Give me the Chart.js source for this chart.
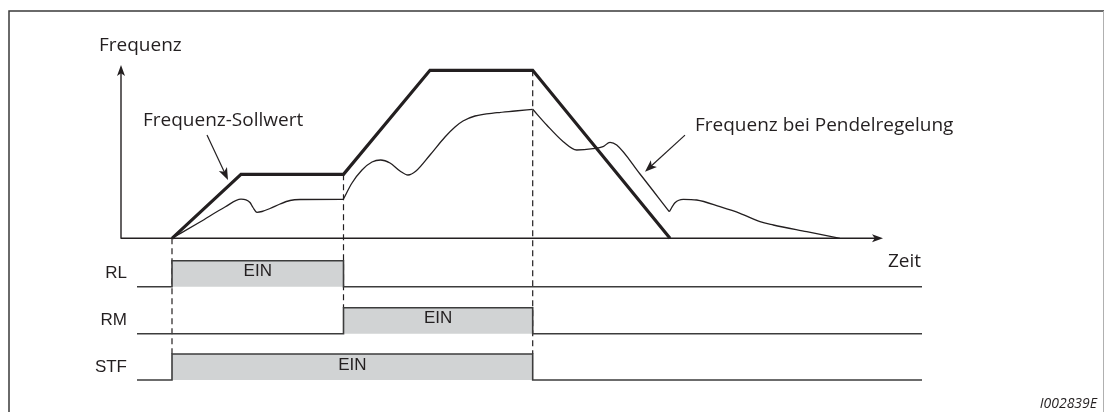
<!DOCTYPE html>
<html><head><meta charset="utf-8">
<script src="https://cdn.jsdelivr.net/npm/chart.js@4/dist/chart.umd.min.js"></script>
<style>html,body{margin:0;padding:0;background:#fff;}#wrap{width:1105px;height:412px;position:relative;}</style>
</head><body><div id="wrap"><canvas id="c" width="1105" height="412"></canvas></div>
<script>
// ---- data (time and frequency in arbitrary units) ----
const sollT = [0, 6.9, 17.15, 25.8, 36.07, 49.8];
const sollF = [0, 32, 32, 84, 84, 0];

// actual frequency with dancer control, split into 4 smooth sections
const pendelA_T = [0, 2.8, 5.3, 6.9, 7.4, 7.8, 8.1, 8.5, 9.0, 9.8, 10.8, 11.8, 12.8, 17.13];
const pendelA_F = [0, 8.15, 15.65, 19.55, 19.25, 17.9, 15.4, 13.0, 13.4, 14.9, 17.15, 18.9, 19.4, 19.5];
const pendelB_T = [17.13, 18.0, 19.0, 20.0, 20.87, 21.8, 22.8, 23.6, 24.4, 25.8, 27.3, 28.3, 29.1, 30.3, 32.5, 34.3, 36.07];
const pendelB_F = [19.5, 27.65, 34.15, 38.15, 39.15, 37.65, 33.65, 31.65, 33.65, 41.65, 50.65, 55.65, 58.65, 61.15, 62.8, 63.65, 64.5];
const pendelC_T = [36.07, 37.47, 39.13, 40.47, 42.1, 43.1, 43.8, 44.47, 46.8, 49.73];
const pendelC_F = [64.5, 56.65, 48.3, 44.15, 44.8, 45.8, 48.0, 46.65, 32.15, 13.3];
const pendelD_T = [49.73, 50.3, 51.13, 52.47, 54.8, 56.8, 58.8, 60.13, 63.47, 66.8];
const pendelD_F = [13.3, 17.8, 19.5, 19.15, 15.8, 12.5, 8.3, 6.65, 3.3, 0];

// control signals (step values, 1 = EIN)
const sigNames = ['RL', 'RM', 'STF'];
const sigT   = [-3.5, 0, 17.15, 36.07, 75];
const sigRL  = [0, 1, 0, 0, 0];
const sigRM  = [0, 0, 1, 0, 0];
const sigSTF = [0, 1, 1, 0, 0];
const sigOnText = 'EIN';

const texts = {
  yTitle: 'Frequenz',
  xTitle: 'Zeit',
  soll: 'Frequenz-Sollwert',
  pendel: 'Frequenz bei Pendelregelung',
  code: 'I002839E'
};

// ---- layout / style ----
const area = {top: 20, bottom: 400, left: 122, right: 183};
const sigLowPx = [286.7, 333.7, 380];
const sigUnitPx = 26;
const freqUnitPx = 2, freqZeroPx = 238.3;
const INK = '#231f20', SIGINK = '#3c3c3c', FILL = '#d1d3d4';

function pts(T, V) { return T.map((t, i) => ({x: t, y: V[i]})); }
const H = area.bottom - area.top;
function sigScale(lowPx) {
  const min = -(area.bottom - lowPx) / sigUnitPx;
  return {type: 'linear', display: false, min: min, max: min + H / sigUnitPx};
}
const fMin = -(area.bottom - freqZeroPx) / freqUnitPx;

const sigData = [sigRL, sigRM, sigSTF];
const sigIds = ['yRL', 'yRM', 'ySTF'];

const datasets = [];
sigData.forEach((vals, i) => {
  datasets.push({
    data: pts(sigT, vals), yAxisID: sigIds[i], stepped: 'before',
    borderColor: SIGINK, borderWidth: 1.6, backgroundColor: FILL,
    fill: 'origin', pointRadius: 0, clip: false, order: 2
  });
});
[[pendelA_T, pendelA_F], [pendelB_T, pendelB_F], [pendelC_T, pendelC_F], [pendelD_T, pendelD_F]].forEach(([T, F]) => {
  datasets.push({
    data: pts(T, F), yAxisID: 'y', borderColor: INK, borderWidth: 1.3,
    cubicInterpolationMode: 'monotone', pointRadius: 0, fill: false, clip: false, order: 1
  });
});
datasets.push({
  data: pts(sollT, sollF), yAxisID: 'y', borderColor: INK, borderWidth: 3.2,
  tension: 0, pointRadius: 0, fill: false, clip: false, order: 0,
  borderJoinStyle: 'miter'
});

function arrowHead(ctx, x1, y1, x2, y2, len, w) {
  const a = Math.atan2(y2 - y1, x2 - x1);
  ctx.beginPath();
  ctx.moveTo(x2, y2);
  ctx.lineTo(x2 - len * Math.cos(a) + w / 2 * Math.sin(a), y2 - len * Math.sin(a) - w / 2 * Math.cos(a));
  ctx.lineTo(x2 - len * Math.cos(a) * 0.75, y2 - len * Math.sin(a) * 0.75);
  ctx.lineTo(x2 - len * Math.cos(a) - w / 2 * Math.sin(a), y2 - len * Math.sin(a) + w / 2 * Math.cos(a));
  ctx.closePath();
  ctx.fill();
}
function arrow(ctx, x1, y1, x2, y2, lw, len, w) {
  const a = Math.atan2(y2 - y1, x2 - x1);
  ctx.lineWidth = lw;
  ctx.beginPath(); ctx.moveTo(x1, y1);
  ctx.lineTo(x2 - len * 0.7 * Math.cos(a), y2 - len * 0.7 * Math.sin(a)); ctx.stroke();
  arrowHead(ctx, x1, y1, x2, y2, len, w);
}

const decor = {
  id: 'decor',
  beforeDatasetsDraw(chart) {
    const ctx = chart.ctx, xs = chart.scales.x, y = chart.scales.y;
    const ySTF = chart.scales.ySTF, yRM = chart.scales.yRM;
    ctx.save();
    ctx.strokeStyle = INK; ctx.lineWidth = 1.2; ctx.setLineDash([6, 4]);
    const marks = [
      [sollT[0], y.getPixelForValue(0), ySTF.getPixelForValue(1)],
      [sollT[2], y.getPixelForValue(sollF[2]), yRM.getPixelForValue(1)],
      [sollT[4], y.getPixelForValue(sollF[4]), ySTF.getPixelForValue(1)]
    ];
    marks.forEach(([t, a, b]) => {
      const px = xs.getPixelForValue(t);
      ctx.beginPath(); ctx.moveTo(px, a); ctx.lineTo(px, b); ctx.stroke();
    });
    ctx.restore();
  },
  afterDraw(chart) {
    const ctx = chart.ctx, xs = chart.scales.x, y = chart.scales.y;
    ctx.save();
    // frame
    ctx.strokeStyle = '#3a3a3a'; ctx.lineWidth = 1.5;
    ctx.beginPath(); ctx.moveTo(9, 412); ctx.lineTo(9, 11); ctx.lineTo(1104, 11); ctx.stroke();
    ctx.strokeStyle = '#b0b0b0'; ctx.lineWidth = 1;
    ctx.beginPath(); ctx.moveTo(1103.5, 11); ctx.lineTo(1103.5, 412); ctx.stroke();

    // axes
    ctx.strokeStyle = INK; ctx.fillStyle = INK;
    const ox = xs.getPixelForValue(-5.1), oy = y.getPixelForValue(0);
    arrow(ctx, ox, oy + 0.5, ox, y.getPixelForValue(86.6), 1.4, 11, 8);
    arrow(ctx, ox, oy, xs.getPixelForValue(71.1), oy, 1.4, 11, 8);

    // annotation arrows
    arrow(ctx, xs.getPixelForValue(3.5), y.getPixelForValue(51.6), xs.getPixelForValue(5.6), y.getPixelForValue(29.2), 1.2, 12, 9);
    arrow(ctx, xs.getPixelForValue(51.3), y.getPixelForValue(51.6), xs.getPixelForValue(47.3), y.getPixelForValue(33.3), 1.2, 12, 9);

    // freq texts
    ctx.fillStyle = INK;
    ctx.textBaseline = 'alphabetic'; ctx.textAlign = 'left';
    ctx.font = '19px "Open Sans"';
    ctx.fillText(texts.yTitle, ox - 22, 50.7);
    ctx.fillText(texts.soll, 143, 126);
    ctx.fillText(texts.pendel, 695, 130.7);
    ctx.fillText(texts.xTitle, 888, 266.7);
    ctx.font = 'italic 14px "Open Sans"';
    ctx.textAlign = 'right';
    ctx.fillText(texts.code, 1097, 408);

    // signal labels
    ctx.font = '17px "Liberation Sans"';
    ctx.textBaseline = 'middle';
    sigIds.forEach((id, i) => {
      const sc = chart.scales[id];
      ctx.textAlign = 'right';
      ctx.fillStyle = INK;
      ctx.fillText(sigNames[i], xs.getPixelForValue(sigT[0]) - 10, sc.getPixelForValue(0) - 13);
      // EIN label centred over each continuous high run
      const v = sigData[i];
      ctx.textAlign = 'center';
      let k = 0;
      while (k < v.length - 1) {
        if (v[k] === 1) {
          let e = k;
          while (e < v.length - 1 && v[e] === 1) e++;
          const cx = (xs.getPixelForValue(sigT[k]) + xs.getPixelForValue(sigT[e])) / 2;
          ctx.fillText(sigOnText, cx, sc.getPixelForValue(1) + 11);
          k = e;
        } else k++;
      }
    });
    ctx.restore();
  }
};

new Chart(document.getElementById('c'), {
  type: 'line',
  data: {datasets},
  options: {
    responsive: false, animation: false,
    layout: {padding: {top: area.top, bottom: 412 - area.bottom, left: area.left, right: area.right}},
    plugins: {legend: {display: false}, tooltip: {enabled: false}},
    scales: {
      x: {type: 'linear', display: false, min: -5, max: 75},
      y: {type: 'linear', display: false, min: fMin, max: fMin + H / freqUnitPx},
      yRL: sigScale(sigLowPx[0]),
      yRM: sigScale(sigLowPx[1]),
      ySTF: sigScale(sigLowPx[2])
    }
  },
  plugins: [decor]
});
</script></body></html>
